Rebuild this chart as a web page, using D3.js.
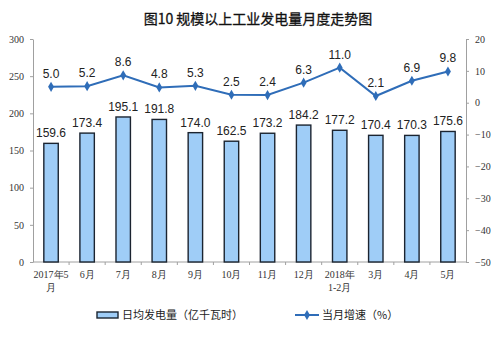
<!DOCTYPE html>
<html>
<head>
<meta charset="utf-8">
<script src="https://cdn.jsdelivr.net/npm/d3@7"></script>
<style>
  body { margin: 0; background: #fff; }
  svg { display: block; }
</style>
</head>
<body>
<svg id="chart" width="500" height="345"></svg>
<script>
// Monthly data: daily average generation and year-on-year growth
const months = ["2017年5月", "6月", "7月", "8月", "9月", "10月", "11月", "12月", "2018年1-2月", "3月", "4月", "5月"];
const monthLines = [["2017年5", "月"], ["6月"], ["7月"], ["8月"], ["9月"], ["10月"], ["11月"], ["12月"], ["2018年", "1-2月"], ["3月"], ["4月"], ["5月"]];
const dailyOutput = [159.6, 173.4, 195.1, 191.8, 174.0, 162.5, 173.2, 184.2, 177.2, 170.4, 170.3, 175.6];
const growthRate = [5.0, 5.2, 8.6, 4.8, 5.3, 2.5, 2.4, 6.3, 11.0, 2.1, 6.9, 9.8];
const leftTicks = [0, 50, 100, 150, 200, 250, 300];
const rightTicks = [20, 10, 0, -10, -20, -30, -40, -50];

const svg = d3.select("#chart");
const plotLeft = 33, plotRight = 466, plotTop = 39, plotBottom = 262;

const x = d3.scaleBand().domain(months).range([plotLeft, plotRight]).paddingInner(0.6).paddingOuter(0.3);
const xStep = d3.scaleBand().domain(months).range([plotLeft, plotRight]);
const yL = d3.scaleLinear().domain([0, 300]).range([plotBottom, plotTop]);
const yR = d3.scaleLinear().domain([-50, 20]).range([plotBottom, plotTop]);

const serif = "'Liberation Serif', 'Times New Roman', serif";
const sans = "'Liberation Sans', Arial, 'Noto Sans CJK SC', sans-serif";
const axisColor = "#a0a0a0";
const barFill = "#9fcdf7";

// Title
svg.append("text")
  .attr("x", 258).attr("y", 24)
  .attr("text-anchor", "middle")
  .attr("font-family", "'Noto Sans CJK SC', sans-serif")
  .attr("font-size", 14).attr("font-weight", 400).attr("fill", "#111")
  .attr("stroke", "#111").attr("stroke-width", 0.3)
  .text("图10 规模以上工业发电量月度走势图");

// Left axis
const gL = svg.append("g").attr("transform", `translate(${plotLeft},0)`)
  .call(d3.axisLeft(yL).tickValues(leftTicks).tickSize(3).tickSizeOuter(0).tickPadding(6));
// Right axis
const gR = svg.append("g").attr("transform", `translate(${plotRight},0)`)
  .call(d3.axisRight(yR).tickValues(rightTicks).tickSize(3).tickSizeOuter(0).tickPadding(6));
[gL, gR].forEach(g => {
  g.select(".domain").attr("stroke", axisColor);
  g.selectAll(".tick line").attr("stroke", axisColor);
  g.selectAll(".tick text").attr("font-family", serif).attr("font-size", 10).attr("fill", "#333");
});

// Bottom axis line with ticks between categories
svg.append("line").attr("x1", plotLeft).attr("x2", plotRight).attr("y1", plotBottom).attr("y2", plotBottom)
  .attr("stroke", axisColor);
svg.selectAll(".xtick").data(months.slice(1)).enter().append("line")
  .attr("x1", d => xStep(d)).attr("x2", d => xStep(d))
  .attr("y1", plotBottom).attr("y2", plotBottom + 3).attr("stroke", axisColor);

// Category labels
const xl = svg.selectAll(".xlab").data(months).enter().append("text")
  .attr("x", d => x(d) + x.bandwidth() / 2)
  .attr("y", plotBottom + 16)
  .attr("text-anchor", "middle")
  .attr("font-family", serif).attr("font-size", 10).attr("fill", "#333");
xl.each(function(d, i) {
  const t = d3.select(this);
  monthLines[i].forEach((line, j) => {
    t.append("tspan").attr("x", x(d) + x.bandwidth() / 2).attr("dy", j === 0 ? 0 : 13).text(line);
  });
});

// Bars
svg.selectAll(".bar").data(months).enter().append("rect")
  .attr("x", d => x(d))
  .attr("y", (d, i) => yL(dailyOutput[i]))
  .attr("width", x.bandwidth())
  .attr("height", (d, i) => yL(0) - yL(dailyOutput[i]))
  .attr("fill", barFill).attr("stroke", "#1b2430").attr("stroke-width", 1.4);

svg.selectAll(".barlab").data(months).enter().append("text")
  .attr("x", d => x(d) + x.bandwidth() / 2)
  .attr("y", (d, i) => yL(dailyOutput[i]) - 6)
  .attr("text-anchor", "middle")
  .attr("font-family", sans).attr("font-size", 12).attr("fill", "#222")
  .text((d, i) => dailyOutput[i].toFixed(1));

// Growth line
const lineColor = "#2f6db8";
const line = d3.line()
  .x((d, i) => x(months[i]) + x.bandwidth() / 2)
  .y(d => yR(d));
svg.append("path").datum(growthRate)
  .attr("d", line).attr("fill", "none")
  .attr("stroke", lineColor).attr("stroke-width", 2);

const diamond = d3.symbol().type(d3.symbolDiamond).size(30);
svg.selectAll(".pt").data(growthRate).enter().append("path")
  .attr("d", diamond)
  .attr("transform", (d, i) => `translate(${x(months[i]) + x.bandwidth() / 2},${yR(d)})`)
  .attr("fill", lineColor);

svg.selectAll(".ptlab").data(growthRate).enter().append("text")
  .attr("x", (d, i) => x(months[i]) + x.bandwidth() / 2)
  .attr("y", d => yR(d) - 9)
  .attr("text-anchor", "middle")
  .attr("font-family", sans).attr("font-size", 12).attr("fill", "#222")
  .text(d => d.toFixed(1));

// Legend
const lg = svg.append("g").attr("font-family", "'Noto Sans CJK SC', sans-serif").attr("font-size", 11).attr("fill", "#222");
lg.append("rect").attr("x", 97).attr("y", 312).attr("width", 21).attr("height", 6)
  .attr("fill", barFill).attr("stroke", "#1b2430").attr("stroke-width", 1.4);
lg.append("text").attr("x", 122).attr("y", 319).text("日均发电量（亿千瓦时）");
lg.append("line").attr("x1", 295).attr("x2", 319).attr("y1", 315).attr("y2", 315)
  .attr("stroke", lineColor).attr("stroke-width", 2);
lg.append("path").attr("d", diamond).attr("transform", "translate(307,315)").attr("fill", lineColor);
lg.append("text").attr("x", 322).attr("y", 319).text("当月增速（%）");
</script>
</body>
</html>
